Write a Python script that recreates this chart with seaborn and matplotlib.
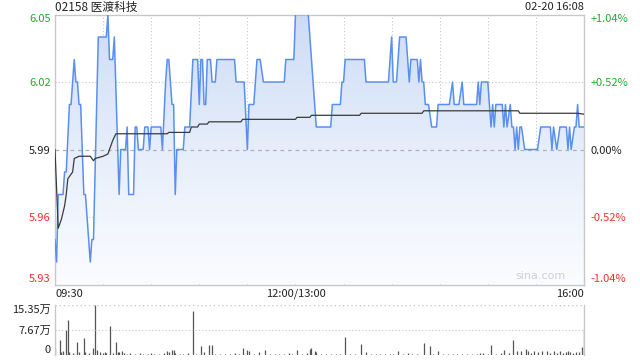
import numpy as np
import pandas as pd
import matplotlib
matplotlib.use("Agg")
import matplotlib.pyplot as plt
from matplotlib.colors import LinearSegmentedColormap
import seaborn as sns

sns.set_theme(style="white")
plt.rcParams['font.family'] = ['Noto Sans CJK SC', 'DejaVu Sans']

# ---------------- data ----------------
title = "02158 医渡科技"
stamp = "02-20 16:08"
x_labels = ["09:30", "12:00/13:00", "16:00"]
price_ticks = [5.93, 5.96, 5.99, 6.02, 6.05]
pct_labels = ["-1.04%", "-0.52%", "0.00%", "+0.52%", "+1.04%"]
vol_ticks = [0, 7.67, 15.35]
vol_tick_labels = ["0", "7.67万", "15.35万"]
prev_close = 5.99

price_min = [0, 1, 2, 5, 6, 7, 9, 10, 12, 13, 14, 15, 16, 18, 19, 20, 22, 23, 24, 27,
             32, 33, 34, 36, 37, 40, 41, 44, 45, 46, 49, 50, 51, 52, 55, 56, 58, 59,
             60, 66, 67, 69, 70, 71, 73, 74, 75, 76, 80, 81, 84, 86, 89, 90, 91, 92,
             93, 94, 95, 97, 98, 100, 101, 112, 113, 118, 120, 121, 124, 126, 128,
             130, 143, 144, 149, 150, 158, 163, 172, 173, 178, 179, 180, 181, 193,
             194, 208, 210, 211, 213, 215, 219, 221, 222, 226, 227, 228, 229, 230,
             231, 233, 235, 238, 239, 246, 248, 249, 252, 254, 255, 263, 264, 265,
             266, 270, 272, 273, 274, 275, 279, 280, 281, 282, 284, 285, 286, 287,
             288, 289, 290, 291, 293, 301, 303, 309, 310, 311, 313, 315, 319, 320,
             321, 322, 324, 325, 326, 327, 330]
price_val = [5.95, 5.94, 5.97, 5.97, 5.98, 5.98, 6.01, 6.01, 6.03, 6.02, 6.02, 6.01,
             6.01, 5.97, 5.97, 5.96, 5.94, 5.95, 5.95, 6.04, 6.04, 6.05, 6.03, 6.03,
             6.04, 5.97, 5.99, 5.99, 6.00, 5.97, 5.97, 6.00, 6.00, 5.99, 5.99, 6.00,
             6.00, 5.99, 6.00, 6.00, 5.99, 6.02, 6.03, 6.03, 6.01, 6.01, 5.97, 5.99,
             5.99, 6.00, 6.00, 6.03, 6.03, 6.01, 6.03, 6.03, 6.01, 6.01, 6.03, 6.03,
             6.02, 6.02, 6.03, 6.03, 6.02, 6.02, 5.99, 6.01, 6.01, 6.03, 6.03, 6.02,
             6.02, 6.03, 6.03, 6.05, 6.05, 6.00, 6.00, 6.01, 6.01, 6.02, 6.02, 6.03,
             6.03, 6.02, 6.02, 6.04, 6.02, 6.02, 6.04, 6.04, 6.02, 6.03, 6.03, 6.02,
             6.03, 6.02, 6.02, 6.01, 6.01, 6.00, 6.00, 6.01, 6.01, 6.02, 6.01, 6.01,
             6.02, 6.01, 6.01, 6.02, 6.01, 6.02, 6.02, 6.00, 6.01, 6.00, 6.01, 6.01,
             6.00, 6.01, 6.00, 6.01, 6.00, 6.00, 5.99, 6.00, 5.99, 6.00, 6.00, 5.99,
             5.99, 6.00, 6.00, 5.99, 6.00, 5.99, 6.00, 6.00, 5.99, 6.00, 5.99, 6.00,
             6.00, 6.01, 6.00, 6.00]

avg_min = [0, 2, 4, 5, 6, 7, 8, 11, 12, 15, 22, 24, 25, 30, 33, 36, 38, 70, 71, 84,
           85, 89, 90, 95, 96, 116, 117, 150, 151, 159, 160, 190, 191, 229, 230, 289,
           290, 326, 330]
avg_val = [5.990, 5.955, 5.959, 5.962, 5.965, 5.970, 5.977, 5.980, 5.986, 5.987,
           5.987, 5.985, 5.986, 5.987, 5.988, 5.994, 5.997, 5.997, 5.9976, 5.9976,
           6.0000, 6.0000, 6.0013, 6.0013, 6.0023, 6.0023, 6.0034, 6.0034, 6.0043,
           6.0043, 6.0052, 6.0052, 6.0061, 6.0061, 6.0072, 6.0072, 6.0061, 6.0061,
           6.0057]

vol_min = [0, 3, 4, 5, 7, 8, 9, 11, 14, 15, 18, 19, 21, 24, 25, 26, 28, 30, 31, 32,
           34, 36, 38, 39, 40, 42, 43, 45, 47, 50, 53, 55, 58, 60, 62, 65, 68, 70, 71,
           73, 74, 75, 78, 80, 83, 86, 88, 91, 93, 96, 98, 100, 103, 106, 109, 112,
           115, 117, 120, 121, 124, 127, 131, 134, 137, 140, 143, 146, 148, 151, 154,
           157, 159, 160, 162, 163, 166, 169, 172, 175, 178, 181, 184, 187, 191, 194,
           197, 200, 203, 206, 209, 211, 214, 217, 220, 223, 226, 230, 234, 236, 239,
           242, 245, 248, 251, 254, 257, 260, 263, 265, 267, 270, 272, 275, 278, 280,
           283, 286, 288, 291, 294, 295, 297, 299, 301, 304, 307, 309, 311, 313, 315,
           317, 319, 320, 321, 323, 325, 327, 329, 330]
vol_val = [2.0, 4.6, 1.0, 1.3, 7.7, 10.7, 1.0, 0.5, 4.1, 1.0, 5.1, 1.0, 0.7, 2.0,
           15.35, 1.5, 1.0, 0.7, 0.8, 0.5, 9.0, 0.7, 3.9, 0.8, 1.0, 1.2, 0.5, 0.4, 0.6,
           0.3, 0.5, 0.3, 0.4, 0.6, 0.3, 0.4, 0.5, 1.3, 1.0, 1.5, 1.5, 0.7, 0.4, 0.3,
           0.5, 13.5, 0.4, 2.9, 0.8, 3.1, 3.1, 0.4, 0.3, 0.4, 0.3, 0.5, 0.4, 2.0, 1.5,
           1.3, 0.4, 1.0, 1.5, 0.4, 0.3, 0.4, 0.3, 0.5, 0.3, 1.5, 0.4, 0.5, 1.8, 2.0,
           1.3, 1.0, 0.4, 0.3, 0.4, 0.3, 0.4, 5.6, 0.4, 0.3, 3.4, 0.9, 0.3, 0.4, 0.3,
           0.4, 0.3, 0.4, 1.2, 0.3, 0.7, 0.3, 0.4, 3.6, 2.8, 0.4, 1.2, 0.3, 0.4, 0.3,
           0.4, 0.3, 0.4, 0.3, 0.4, 0.5, 0.7, 0.4, 3.1, 0.4, 0.5, 1.5, 0.5, 4.6, 1.2,
           1.2, 1.7, 1.2, 0.5, 1.2, 1.0, 1.2, 1.2, 0.6, 1.2, 0.5, 1.2, 0.6, 1.0, 1.2,
           1.0, 0.6, 1.0, 1.0, 2.6, 7.9]

# ---------------- styling ----------------
GREEN = "#1fae2a"
RED = "#f0312b"
DARK = "#222222"
BLUE = "#5a8ff0"
GRID = "#c8c8c8"
SPINE = "#c8c8c8"

fig = plt.figure(figsize=(6.4, 3.6), dpi=100)
ax = fig.add_axes([55 / 640, (360 - 284.5) / 360, 529 / 640, 270 / 360])
axv = fig.add_axes([55 / 640, (360 - 355) / 360, 529 / 640, 50 / 360])

price_df = pd.DataFrame({"m": price_min, "p": price_val})
avg_df = pd.DataFrame({"m": avg_min, "p": avg_val})

ax.set_xlim(0, 330)
ax.set_ylim(5.93, 6.05)

# gradient fill under price line
poly = ax.fill_between(price_df["m"], price_df["p"], 5.93, color="none", lw=0)
cmap = LinearSegmentedColormap.from_list("g", ["#fbfcff", "#e6eefb", "#cddcf6"])
grad = np.linspace(0, 1, 256).reshape(-1, 1)
im = ax.imshow(grad, extent=[0, 330, 5.93, 6.05], origin="lower", aspect="auto",
               cmap=cmap, zorder=1)
path = poly.get_paths()[0]
im.set_clip_path(path, transform=ax.transData)

# grid
for m in range(30, 330, 30):
    ax.axvline(m, color=GRID, lw=0.8, ls=(0, (1, 2)), zorder=0.5)
for p in [5.96, 6.02]:
    ax.axhline(p, color=GRID, lw=0.8, ls=(0, (1, 2)), zorder=0.5)
ax.axhline(prev_close, color="#b0b0b0", lw=0.9, ls=(0, (3, 3)), zorder=2)

sns.lineplot(data=price_df, x="m", y="p", ax=ax, color=BLUE, lw=1.1,
             estimator=None, sort=False, zorder=3)
sns.lineplot(data=avg_df, x="m", y="p", ax=ax, color="#3a3a3a", lw=0.9,
             estimator=None, sort=False, zorder=4)

ax.set_xlabel("")
ax.set_ylabel("")
for s in ax.spines.values():
    s.set_color(SPINE)
    s.set_linewidth(1.0)

ax.set_yticks(price_ticks)
ax.set_yticklabels([f"{t:.2f}" for t in price_ticks])
ycols = [RED, RED, DARK, GREEN, GREEN]
for lbl, c in zip(ax.get_yticklabels(), ycols):
    lbl.set_color(c)
    lbl.set_fontsize(8)
ylbls = ax.get_yticklabels()
ylbls[0].set_va("bottom")
ylbls[-1].set_va("top")
ax.tick_params(axis="y", length=0, pad=3)

# right percentage labels
axr = ax.twinx()
axr.set_ylim(5.93, 6.05)
axr.set_yticks(price_ticks)
axr.set_yticklabels(pct_labels)
for lbl, c in zip(axr.get_yticklabels(), ycols):
    lbl.set_color(c)
    lbl.set_fontsize(8)
rl = axr.get_yticklabels()
rl[0].set_va("bottom")
rl[-1].set_va("top")
axr.tick_params(axis="y", length=0, pad=5)
axr.grid(False)
for s in axr.spines.values():
    s.set_visible(False)

ax.set_xticks([0, 150, 330])
ax.set_xticklabels(x_labels, fontsize=8, color=DARK)
xl = ax.get_xticklabels()
xl[0].set_ha("left")
xl[-1].set_ha("right")
ax.tick_params(axis="x", length=0, pad=3)

fig.text(55 / 640, 1 - 7.5 / 360, title, ha="left", va="center",
         fontsize=8.5, color=DARK)
fig.text(584 / 640, 1 - 7.5 / 360, stamp, ha="right", va="center",
         fontsize=8, color=DARK)
ax.text(0.965, 0.012, "sina.com", transform=ax.transAxes, ha="right", va="bottom",
        fontsize=8, color="#d0d0d0", family=["DejaVu Sans"])

# volume
axv.set_xlim(0, 330)
axv.set_ylim(0, 15.35)
axv.vlines(vol_min, 0, vol_val, color="#555555", lw=0.9)
axv.axhline(7.67, color=GRID, lw=0.8, ls=(0, (1, 2)))
axv.axhline(15.35, color=GRID, lw=1.0, ls=(0, (1, 2)))
axv.set_xticks([])
axv.set_yticks(vol_ticks)
axv.set_yticklabels(vol_tick_labels)
vl = axv.get_yticklabels()
for lbl in vl:
    lbl.set_fontsize(8)
    lbl.set_color(DARK)
vl[0].set_va("bottom")
vl[-1].set_va("top")
axv.tick_params(axis="y", length=0, pad=3)
for k, s in axv.spines.items():
    s.set_color(SPINE)
    s.set_linewidth(1.0)
axv.spines["top"].set_visible(False)
axv.spines["bottom"].set_visible(False)

fig.savefig("out.png", dpi=100)
